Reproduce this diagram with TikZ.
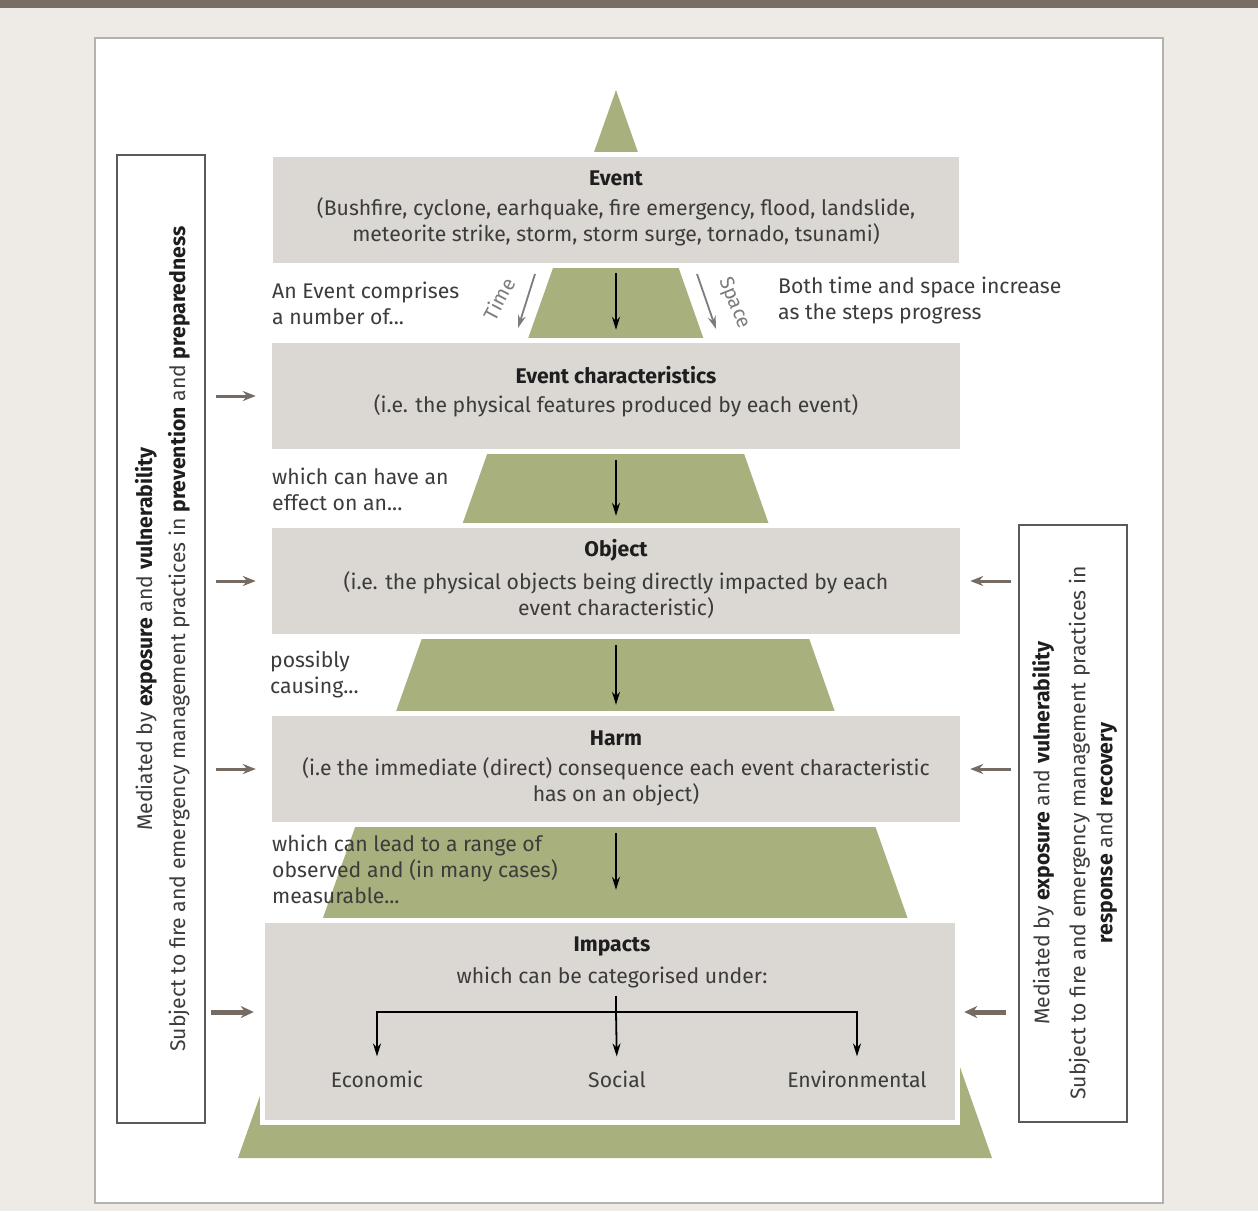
\documentclass[tikz,border=0pt]{standalone}
\usepackage{fontspec}
\setmainfont{Fira Sans}
\usetikzlibrary{arrows.meta}
\definecolor{bgbeige}{HTML}{EEEAE6}
\definecolor{band}{HTML}{786E64}
\definecolor{framegray}{HTML}{B4B1AE}
\definecolor{boxgray}{HTML}{DBD7D3}
\definecolor{pyr}{HTML}{A8B07D}
\definecolor{txt}{HTML}{3C3C3C}
\definecolor{ttlc}{HTML}{1E1E1E}
\definecolor{sidegray}{HTML}{5A5A5A}
\definecolor{sidearrow}{HTML}{766B62}
\definecolor{tsarrow}{HTML}{7C7C7C}
\newcommand\kw[1]{\textbf{\color{ttlc}#1}}
\begin{document}
\begin{tikzpicture}[x=1pt,y=-1pt,
  font=\fontsize{21.2}{26}\selectfont,
  box/.style={rectangle, fill=boxgray, preaction={draw=white, line width=10pt}, inner sep=0pt, minimum width=688pt, minimum height=106pt},
  ttl/.style={font=\fontsize{21.2}{26}\selectfont\bfseries, text=ttlc, inner sep=0pt},
  body/.style={text=txt, align=center, inner sep=0pt},
  side/.style={text=txt, align=left, anchor=west, inner sep=0pt},
  arr/.style={draw=black, line width=1.8pt, -{Stealth[length=13pt,width=8pt]}},
  tsarr/.style={draw=tsarrow, line width=1.8pt, -{Stealth[length=13pt,width=8pt]}},
  larr/.style={draw=sidearrow, line width=3pt, -{Stealth[length=13pt,width=10pt]}},
  larrthick/.style={draw=sidearrow, line width=5pt, -{Stealth[length=13pt,width=12pt]}},
  sidebox/.style={draw=sidegray, line width=2.5pt, inner sep=0pt},
  sidetext/.style={rotate=90, align=center, text=txt, inner sep=0pt}
]
\useasboundingbox (0,0) rectangle (1258,1211);
\fill[bgbeige] (0,0) rectangle (1258,1211);
\fill[band] (0,0) rectangle (1258,8);
\draw[framegray, line width=2pt, fill=white] (95,38) rectangle (1163,1203);
\fill[pyr] (616,90) -- (992,1158) -- (238,1158) -- cycle;

% boxes
\node[box, minimum width=686pt] (event) at (616,210) {};
\node[box] (ec) at (616,396) {};
\node[box] (obj) at (616,581) {};
\node[box] (harm) at (616,769) {};
\node[box, minimum width=690pt, minimum height=197pt] (imp) at (610,1021.5) {};

% box texts
\node[ttl] (eventT) at (616,178) {Event};
\node[body] (eventB) at (616,222) {(Bushfire, cyclone, earhquake, fire emergency, flood, landslide,\\meteorite strike, storm, storm surge, tornado, tsunami)};
\node[ttl] (ecT) at (616,375) {Event characteristics};
\node[body] (ecB) at (616,406) {(i.e. the physical features produced by each event)};
\node[ttl] (objT) at (616,550) {Object};
\node[body] (objB) at (616,595) {(i.e. the physical objects being directly impacted by each\\event characteristic)};
\node[ttl] (harmT) at (616,738) {Harm};
\node[body] (harmB) at (616,782) {(i.e the immediate (direct) consequence each event characteristic\\has on an object)};
\node[ttl] (impT) at (612,946) {Impacts};
\node[body] (impB) at (612,977) {which can be categorised under:};
\node[body] (econ) at (377,1079) {Economic};
\node[body] (social) at (617,1079) {Social};
\node[body] (env) at (857,1079) {Environmental};

% side texts
\node[side] (s1) at (272,303) {An Event comprises\\a number of...};
\node[side] (s2) at (778,300) {Both time and space increase\\as the steps progress};
\node[side] (s3) at (272,489) {which can have an\\effect on an...};
\node[side] (s4) at (270,674) {possibly\\causing...};
\node[side] (s5) at (272,869) {which can lead to a range of\\observed and (in many cases)\\measurable...};

% time / space
\node[rotate=62, text=tsarrow, inner sep=0pt, font=\fontsize{20}{24}\selectfont] (time) at (499,299) {Time};
\node[rotate=-68, text=tsarrow, inner sep=0pt, font=\fontsize{20}{24}\selectfont] (space) at (734,303) {Space};
\coordinate (ta) at (535,274);
\coordinate (tb) at (518,328);
\coordinate (sa) at (697,274);
\coordinate (sb) at (716,329);
\draw[tsarr] (ta) -- (tb);
\draw[tsarr] (sa) -- (sb);

% main arrows
\draw[arr, shorten <=10pt, shorten >=13pt] (event.south) -- (ec.north);
\draw[arr, shorten <=11pt, shorten >=12pt] (ec.south) -- (obj.north);
\draw[arr, shorten <=11pt, shorten >=11pt] (obj.south) -- (harm.north);
\draw[arr, shorten <=11pt, shorten >=33pt] (harm.south) -- (harm.south |- imp.north);

% impacts tree
\coordinate (hub) at (616,1012);
\draw[black, line width=1.8pt] (impB.south -| hub) ++(0,8) -- (hub);
\draw[arr, shorten >=14pt] (hub) -- (social.north);
\draw[arr, shorten >=14pt] (hub) -| (econ.north);
\draw[arr, shorten >=14pt] (hub) -| (env.north);

% side boxes
\node[sidebox, minimum width=88pt, minimum height=968pt] (lbox) at (161,639) {};
\node[sidetext, font=\fontsize{21.2}{33}\selectfont] (ltext) at (162.5,639)
  {Mediated by \kw{exposure} and \kw{vulnerability}\\Subject to fire and emergency management practices in \kw{prevention} and \kw{preparedness}};
\node[sidebox, minimum width=108pt, minimum height=597pt] (rbox) at (1073,823.5) {};
\node[sidetext, font=\fontsize{21.2}{27}\selectfont] (rtext) at (1074.5,833)
  {Mediated by \kw{exposure} and \kw{vulnerability}\\[9pt]Subject to fire and emergency management practices in\\\kw{response} and \kw{recovery}};

% side arrows
\draw[larr, shorten <=10pt, shorten >=16pt] (lbox.east |- ec.west) -- (ec.west);
\draw[larr, shorten <=10pt, shorten >=16pt] (lbox.east |- obj.west) -- (obj.west);
\draw[larr, shorten <=10pt, shorten >=16pt] (lbox.east |- harm.west) -- (harm.west);
\draw[larrthick, shorten <=5pt, shorten >=11pt] (lbox.east |- hub) -- (imp.west |- hub);
\draw[larr, shorten <=7pt, shorten >=10pt] (rbox.west |- obj.east) -- (obj.east);
\draw[larr, shorten <=7pt, shorten >=10pt] (rbox.west |- harm.east) -- (harm.east);
\draw[larrthick, shorten <=12pt, shorten >=9pt] (rbox.west |- hub) -- (imp.east |- hub);
\end{tikzpicture}
\end{document}
